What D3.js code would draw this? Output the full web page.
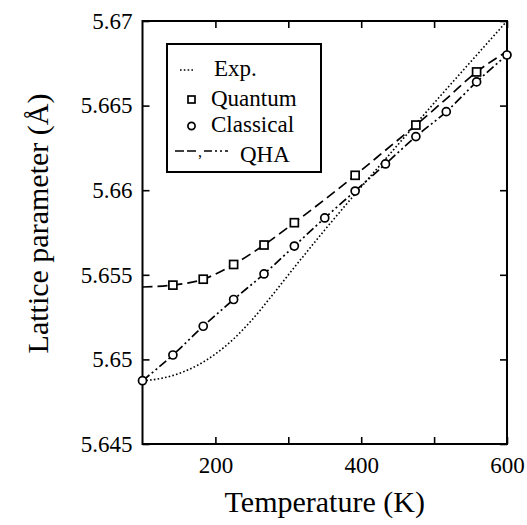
<!DOCTYPE html>
<html>
<head>
<meta charset="utf-8">
<script src="https://cdn.jsdelivr.net/npm/d3@7"></script>
<style>
  body { margin: 0; background: #fff; }
  svg { display: block; }
</style>
</head>
<body>
<svg id="chart" width="527" height="525"></svg>
<script>
// Experimental lattice parameter (dotted curve)
const expT = [100, 125, 150, 175, 200, 225, 250, 275, 300, 350, 400, 450, 500, 550, 600];
const expA = [5.64874, 5.64887, 5.64917, 5.64964, 5.65032, 5.65121, 5.65233, 5.65363, 5.65499,
              5.65765, 5.66019, 5.66267, 5.66515, 5.66758, 5.67];

// Quantum simulation (squares)
const quantumT = [141.7, 183.3, 225, 266.7, 308.3, 391.7, 475, 558.3];
const quantumA = [5.65439, 5.65474, 5.65561, 5.65676, 5.65808, 5.66088, 5.66385, 5.66699];

// Classical simulation (circles)
const classicalT = [100, 141.7, 183.3, 225, 266.7, 308.3, 350, 391.7, 433.3, 475, 516.7, 558.3, 600];
const classicalA = [5.64874, 5.65026, 5.65196, 5.65354, 5.65505, 5.6567, 5.65836, 5.65995,
                    5.66155, 5.66317, 5.66464, 5.6664, 5.66799];

// Quasi-harmonic curves
const qhaT = [100, 141.7, 183.3, 225, 266.7, 308.3, 350, 391.7, 433.3, 475, 516.7, 558.3, 600];
const qhaQuantumA = [5.65428, 5.65439, 5.65474, 5.65561, 5.65676, 5.65808, 5.65945, 5.66088,
                     5.66236, 5.66385, 5.6654, 5.66699, 5.6682];
const qhaClassicalA = [5.64874, 5.65026, 5.65196, 5.65354, 5.65505, 5.6567, 5.65836, 5.65995,
                       5.66155, 5.66317, 5.66464, 5.6664, 5.66799];

// Axis ticks
const xTicks = [200, 300, 400, 500, 600];
const xTickLabels = ["200", "", "400", "", "600"];
const yTicks = [5.645, 5.65, 5.655, 5.66, 5.665, 5.67];
const yTickLabels = ["5.645", "5.65", "5.655", "5.66", "5.665", "5.67"];

const serif = "'Liberation Serif', 'DejaVu Serif', serif";
const svg = d3.select("#chart");
const plotLeft = 142.5, plotRight = 507, plotTop = 21, plotBottom = 444;

const x = d3.scaleLinear().domain([100, 600]).range([plotLeft, plotRight]);
const y = d3.scaleLinear().domain([5.645, 5.67]).range([plotBottom, plotTop]);

const tickFont = "23px";

function styleAxis(g) {
  g.attr("font-family", serif);
  g.select(".domain").remove();
  g.selectAll("line").attr("stroke", "#000").attr("stroke-width", 1.6);
  g.selectAll("text").style("font-family", serif).style("font-size", tickFont).attr("fill", "#000");
}

// bottom axis
svg.append("g").attr("transform", `translate(0,${plotBottom})`)
  .call(d3.axisBottom(x).tickValues(xTicks).tickSizeInner(-7).tickSizeOuter(0).tickPadding(13)
    .tickFormat((d, i) => xTickLabels[i]))
  .call(styleAxis);

// top axis (ticks only)
svg.append("g").attr("transform", `translate(0,${plotTop})`)
  .call(d3.axisTop(x).tickValues(xTicks).tickSizeInner(-7).tickSizeOuter(0).tickFormat(""))
  .call(styleAxis);

// left axis
svg.append("g").attr("transform", `translate(${plotLeft},0)`)
  .call(d3.axisLeft(y).tickValues(yTicks).tickSizeInner(-7).tickSizeOuter(0).tickPadding(10)
    .tickFormat((d, i) => yTickLabels[i]))
  .call(styleAxis);

// right axis (ticks only)
svg.append("g").attr("transform", `translate(${plotRight},0)`)
  .call(d3.axisRight(y).tickValues(yTicks).tickSizeInner(-7).tickSizeOuter(0).tickFormat(""))
  .call(styleAxis);

// frame
svg.append("rect")
  .attr("x", plotLeft).attr("y", plotTop)
  .attr("width", plotRight - plotLeft).attr("height", plotBottom - plotTop)
  .attr("fill", "none").attr("stroke", "#000").attr("stroke-width", 2);

// axis titles
svg.append("text")
  .attr("x", (plotLeft + plotRight) / 2).attr("y", 512)
  .attr("text-anchor", "middle").style("font-family", serif).style("font-size", "30px")
  .text("Temperature (K)");
svg.append("text")
  .attr("transform", `translate(48,${(plotTop + plotBottom) / 2 - 9}) rotate(-90)`)
  .attr("text-anchor", "middle").style("font-family", serif).style("font-size", "30px")
  .text("Lattice parameter (Å)");

// curves
const plot = svg.append("g");
const line = d3.line().curve(d3.curveMonotoneX);

plot.append("path")
  .attr("d", line(expT.map((t, i) => [x(t), y(expA[i])])))
  .attr("fill", "none").attr("stroke", "#000").attr("stroke-width", 1.6)
  .attr("stroke-dasharray", "1.6,2.2");

plot.append("path")
  .attr("d", line(qhaT.map((t, i) => [x(t), y(qhaQuantumA[i])])))
  .attr("fill", "none").attr("stroke", "#000").attr("stroke-width", 1.7)
  .attr("stroke-dasharray", "10,5");

plot.append("path")
  .attr("d", line(qhaT.map((t, i) => [x(t), y(qhaClassicalA[i])])))
  .attr("fill", "none").attr("stroke", "#000").attr("stroke-width", 1.7)
  .attr("stroke-dasharray", "9,3,2,3,2,3");

// markers
const sq = 8;
plot.selectAll(".sq").data(quantumT).join("rect")
  .attr("x", (t) => x(t) - sq / 2).attr("y", (t, i) => y(quantumA[i]) - sq / 2)
  .attr("width", sq).attr("height", sq)
  .attr("fill", "#fff").attr("stroke", "#000").attr("stroke-width", 1.7);

plot.selectAll(".ci").data(classicalT).join("circle")
  .attr("cx", (t) => x(t)).attr("cy", (t, i) => y(classicalA[i])).attr("r", 4)
  .attr("fill", "#fff").attr("stroke", "#000").attr("stroke-width", 1.7);

// legend
const lg = svg.append("g").style("font-family", serif);
lg.append("rect").attr("x", 167).attr("y", 44).attr("width", 154).attr("height", 128)
  .attr("fill", "#fff").attr("stroke", "#000").attr("stroke-width", 2);

const legendFont = "23px";
lg.append("line").attr("x1", 180).attr("x2", 194).attr("y1", 70).attr("y2", 70)
  .attr("stroke", "#000").attr("stroke-width", 1.6).attr("stroke-dasharray", "1.6,2.2");
lg.append("text").attr("x", 214).attr("y", 76).style("font-size", legendFont).text("Exp.");

lg.append("rect").attr("x", 188).attr("y", 96).attr("width", 7).attr("height", 7)
  .attr("fill", "#fff").attr("stroke", "#000").attr("stroke-width", 1.7);
lg.append("text").attr("x", 211).attr("y", 106).style("font-size", legendFont).text("Quantum");

lg.append("circle").attr("cx", 191.5).attr("cy", 126).attr("r", 3.6)
  .attr("fill", "#fff").attr("stroke", "#000").attr("stroke-width", 1.7);
lg.append("text").attr("x", 211).attr("y", 132).style("font-size", legendFont).text("Classical");

lg.append("line").attr("x1", 175).attr("x2", 198).attr("y1", 151).attr("y2", 151)
  .attr("stroke", "#000").attr("stroke-width", 1.7).attr("stroke-dasharray", "9,3");
lg.append("text").attr("x", 198).attr("y", 157).style("font-size", "16px").text(",");
lg.append("line").attr("x1", 204).attr("x2", 228).attr("y1", 151).attr("y2", 151)
  .attr("stroke", "#000").attr("stroke-width", 1.7).attr("stroke-dasharray", "8,3,2,3,2,3");
lg.append("text").attr("x", 240).attr("y", 162).style("font-size", legendFont).text("QHA");
</script>
</body>
</html>
